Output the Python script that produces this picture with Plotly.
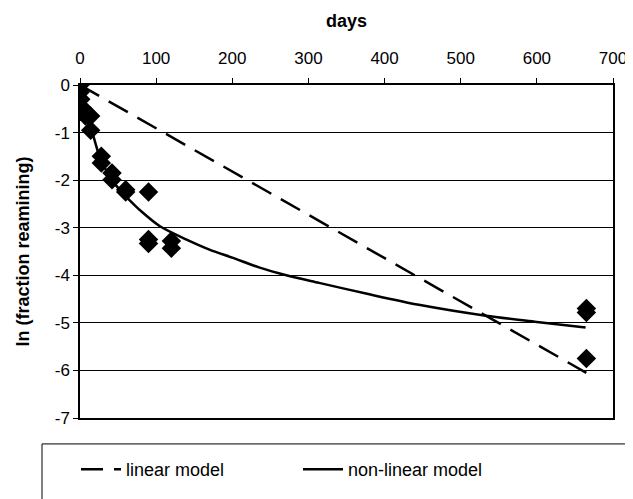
import plotly.graph_objects as go

# observed data
days = [0, 0, 1, 3, 7, 14, 14, 28, 28, 42, 42, 60, 60, 90, 90, 90, 120, 120, 665, 665, 665]
ln_frac = [0, -0.15, -0.3, -0.48, -0.65, -0.65, -0.95, -1.5, -1.64, -1.85, -1.99, -2.2, -2.25,
           -2.25, -3.25, -3.33, -3.28, -3.43, -4.7, -4.78, -5.75]

# linear model
lin_days = [0, 665]
lin_vals = [0, -6.05]

# non-linear model
nl_days = [0, 2, 5, 10, 16, 26, 40, 52, 65, 80, 105, 140, 170, 200, 236, 271, 314, 380, 445, 533, 600, 664]
nl_vals = [0, -0.3, -0.55, -0.8, -1.0, -1.52, -1.95, -2.2, -2.42, -2.65, -2.97, -3.25, -3.46,
           -3.63, -3.84, -4.0, -4.16, -4.4, -4.62, -4.85, -4.98, -5.1]

x_ticks = [0, 100, 200, 300, 400, 500, 600, 700]
y_ticks = [0, -1, -2, -3, -4, -5, -6, -7]
y_ticktext = ["0", "-1", "-2", "-3", "-4", "-5", "-6", "-7"]

FONT = "Liberation Sans, Arial, sans-serif"

fig = go.Figure()
fig.add_trace(go.Scatter(x=days, y=ln_frac, mode="markers", showlegend=False,
                         marker=dict(symbol="diamond", size=15, color="black")))
fig.add_trace(go.Scatter(x=lin_days, y=lin_vals, mode="lines", name="linear model",
                         line=dict(color="black", width=2.5, dash="22px,11px")))
fig.add_trace(go.Scatter(x=nl_days, y=nl_vals, mode="lines", name="non-linear model",
                         line=dict(color="black", width=2.5, shape="spline", smoothing=0.8)))

# page body has an 8px margin, so the figure is drawn 8px in and 8px down
OFF = 8
W, H = 633 - OFF, 499 - OFF
L, T = 80 - OFF, 85 - OFF
R = W - (613 - OFF)
B = H - (419 - OFF)
pw, ph = W - L - R, H - T - B

def sx(p):
    return (p - OFF - L) / pw

def sy(p):
    return (H - B - (p - OFF)) / ph

fig.add_shape(type="rect", xref="paper", yref="paper",
              x0=sx(42), x1=sx(660), y0=sy(520), y1=sy(445),
              line=dict(color="black", width=1), fillcolor="rgba(0,0,0,0)")

fig.update_layout(
    width=W, height=H,
    margin=dict(l=L, r=R, t=T, b=B),
    paper_bgcolor="white", plot_bgcolor="white",
    font=dict(family=FONT, size=17, color="black"),
    xaxis=dict(side="top", range=[0, 700], tickvals=x_ticks, ticks="outside", ticklen=5,
               tickcolor="black", showline=True, linecolor="black", linewidth=1.5, mirror=True,
               showgrid=False, zeroline=False, automargin=False, ticklabelstandoff=7,
               tickfont=dict(size=17),
               title=dict(text="<b>days</b>", standoff=17, font=dict(size=18))),
    yaxis=dict(range=[-7, 0], tickvals=y_ticks, ticktext=y_ticktext, ticks="outside", ticklen=5,
               tickcolor="black", showline=True, linecolor="black", linewidth=1.5, mirror=True,
               showgrid=True, gridcolor="black", gridwidth=1, zeroline=False, automargin=False,
               tickfont=dict(size=17),
               title=dict(text="<b>ln (fraction reamining)</b>", standoff=20, font=dict(size=18))),
    legend=dict(orientation="h", x=sx(76), y=sy(451), xanchor="left", yanchor="top",
                bgcolor="rgba(0,0,0,0)", borderwidth=0, entrywidth=167,
                font=dict(size=18), itemwidth=40),
)

fig.write_html("out.html")
